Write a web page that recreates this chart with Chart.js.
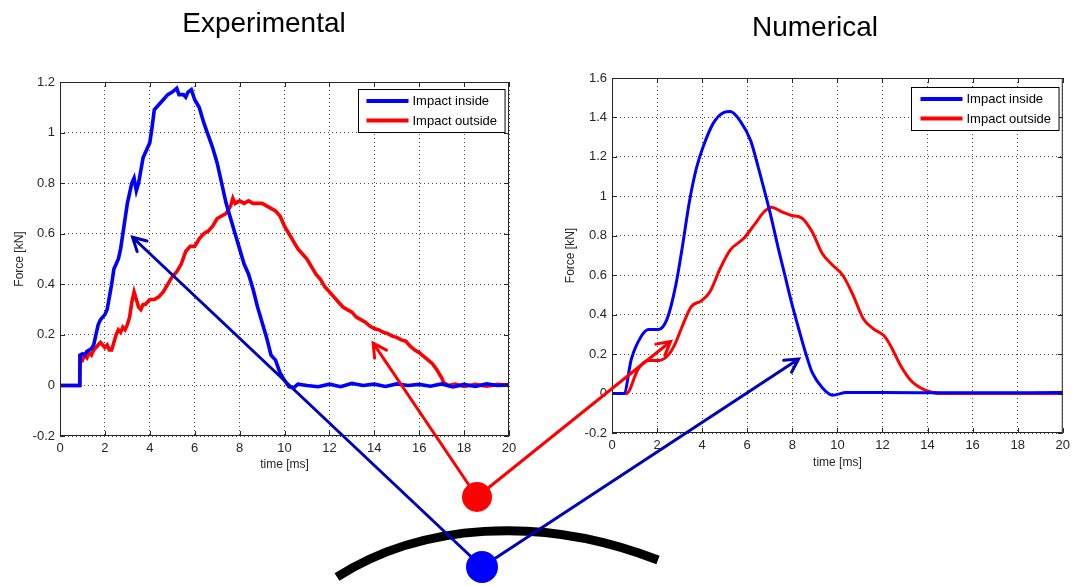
<!DOCTYPE html>
<html>
<head>
<meta charset="utf-8">
<script src="https://cdn.jsdelivr.net/npm/chart.js@4/dist/chart.umd.min.js"></script>
<style>
  html, body { margin: 0; padding: 0; background: #fff; }
  body { width: 1075px; height: 586px; position: relative; overflow: hidden; }
  canvas { position: absolute; }
  #overlay { left: 0; top: 0; pointer-events: none; }
</style>
</head>
<body>
<canvas id="expChart" width="530" height="420" style="left:0;top:60px"></canvas>
<canvas id="numChart" width="535" height="420" style="left:540px;top:60px"></canvas>
<canvas id="overlay" width="1075" height="586"></canvas>
<script>
// measured impact force, time in ms, force in kN
const expInsideT = [0, 0.5, 0.88, 0.9, 1.0, 1.1, 1.2, 1.3, 1.4, 1.5, 1.6, 1.7, 1.8, 1.9, 2.0, 2.1, 2.2, 2.3, 2.4, 2.5,
  2.6, 2.7, 2.8, 2.9, 3.0, 3.1, 3.2, 3.3, 3.4, 3.5, 3.6, 3.7, 3.8, 3.9, 4.0, 4.1, 4.2, 4.3, 4.4, 4.6,
  4.8, 5.0, 5.2, 5.3, 5.5, 5.6, 5.7, 5.85, 6.0, 6.2, 6.4, 6.6, 6.8, 7.0, 7.2, 7.4, 7.6, 7.8, 8.0, 8.2,
  8.4, 8.6, 8.8, 9.0, 9.2, 9.4, 9.6, 9.8, 10.0, 10.2, 10.4, 10.6, 11.0, 11.5, 12.0, 12.5, 13.0, 13.5, 14.0, 14.5,
  15.0, 15.5, 16.0, 16.5, 17.0, 17.5, 18.0, 18.5, 19.0, 19.5, 20.0];
const expInsideF = [0, 0, 0, 0.12, 0.125, 0.12, 0.135, 0.14, 0.145, 0.16, 0.2, 0.24, 0.26, 0.27, 0.28, 0.3, 0.35, 0.4, 0.46, 0.48,
  0.5, 0.54, 0.6, 0.66, 0.72, 0.76, 0.8, 0.82, 0.77, 0.8, 0.85, 0.9, 0.92, 0.94, 0.96, 1.02, 1.09, 1.1, 1.11, 1.13,
  1.15, 1.16, 1.175, 1.15, 1.15, 1.14, 1.16, 1.17, 1.13, 1.1, 1.04, 0.99, 0.94, 0.88, 0.8, 0.72, 0.66, 0.6, 0.54, 0.48,
  0.44, 0.38, 0.31, 0.25, 0.19, 0.12, 0.1, 0.05, 0.02, -0.005, -0.01, 0.005, 0, -0.005, 0.005, -0.005, 0.008, 0, 0.005, -0.004,
  0.006, 0, 0.004, -0.003, 0.006, -0.006, 0.004, -0.004, 0.006, 0, 0.002];

const expOutsideT = [0, 0.86, 0.88, 1.0, 1.1, 1.2, 1.3, 1.4, 1.5, 1.6, 1.7, 1.8, 1.9, 2.0, 2.1, 2.2, 2.3, 2.4, 2.5, 2.6,
  2.7, 2.8, 2.9, 3.0, 3.1, 3.2, 3.3, 3.4, 3.5, 3.6, 3.7, 3.8, 4.0, 4.2, 4.4, 4.6, 4.8, 5.0, 5.2, 5.4,
  5.6, 5.8, 6.0, 6.2, 6.4, 6.6, 6.8, 7.0, 7.2, 7.4, 7.6, 7.7, 7.8, 8.0, 8.2, 8.4, 8.6, 8.8, 9.0, 9.2,
  9.4, 9.6, 9.8, 10.0, 10.2, 10.4, 10.6, 10.8, 11.0, 11.2, 11.4, 11.6, 11.8, 12.0, 12.2, 12.4, 12.6, 12.8, 13.0, 13.2,
  13.4, 13.6, 13.8, 14.0, 14.2, 14.4, 14.6, 14.8, 15.0, 15.2, 15.4, 15.6, 15.8, 16.0, 16.2, 16.4, 16.6, 16.8, 17.0, 17.1,
  17.3, 17.6, 18.0, 18.5, 19.0, 19.5, 20.0];
const expOutsideF = [0, 0, 0.11, 0.1, 0.12, 0.11, 0.13, 0.12, 0.14, 0.15, 0.16, 0.17, 0.16, 0.15, 0.16, 0.14, 0.14, 0.17, 0.2, 0.22,
  0.21, 0.23, 0.22, 0.24, 0.27, 0.33, 0.37, 0.34, 0.31, 0.3, 0.32, 0.32, 0.34, 0.34, 0.35, 0.37, 0.4, 0.43, 0.45, 0.48,
  0.53, 0.55, 0.55, 0.58, 0.6, 0.61, 0.63, 0.66, 0.67, 0.68, 0.71, 0.74, 0.72, 0.73, 0.72, 0.73, 0.72, 0.72, 0.72, 0.71,
  0.7, 0.69, 0.67, 0.63, 0.6, 0.57, 0.54, 0.52, 0.5, 0.47, 0.44, 0.42, 0.39, 0.37, 0.35, 0.33, 0.31, 0.3, 0.29, 0.27,
  0.26, 0.25, 0.235, 0.225, 0.22, 0.21, 0.205, 0.195, 0.19, 0.18, 0.175, 0.155, 0.14, 0.13, 0.115, 0.1, 0.085, 0.06, 0.03, 0.01,
  0, 0.005, -0.004, 0.004, -0.003, 0.004, 0];

// simulated impact force
const numInsideT = [0, 0.53, 0.86, 1.32, 1.62, 2.07, 2.45, 2.83, 3.13, 3.43, 3.74, 4.04, 4.49, 4.95, 5.25, 5.7, 6.16, 6.46, 6.76, 7.07,
  7.37, 7.67, 7.97, 8.28, 8.58, 8.88, 9.33, 9.79, 10.4, 12.0, 15.0, 20.0];
const numInsideF = [0, 0, 0.175, 0.294, 0.325, 0.325, 0.38, 0.55, 0.75, 0.97, 1.14, 1.25, 1.37, 1.425, 1.43, 1.38, 1.28, 1.16, 1.03, 0.89,
  0.74, 0.6, 0.46, 0.33, 0.21, 0.107, 0.03, -0.008, 0.005, 0.005, 0.004, 0.005];

const numOutsideT = [0, 0.64, 1.16, 1.62, 2.07, 2.53, 2.83, 3.13, 3.51, 3.96, 4.34, 4.8, 5.25, 5.85, 6.31, 6.76, 7.07, 7.52, 7.97, 8.43,
  8.88, 9.33, 9.79, 10.24, 10.7, 11.15, 11.6, 12.06, 12.36, 12.81, 13.27, 13.87, 14.63, 20.0];
const numOutsideF = [0, 0, 0.124, 0.167, 0.167, 0.2, 0.26, 0.345, 0.44, 0.47, 0.515, 0.634, 0.728, 0.787, 0.855, 0.923, 0.945, 0.923, 0.903, 0.889,
  0.82, 0.71, 0.651, 0.6, 0.498, 0.379, 0.328, 0.294, 0.243, 0.141, 0.065, 0.019, 0, 0];

const timeTicks = [0, 2, 4, 6, 8, 10, 12, 14, 16, 18, 20];
const expForceTicks = [-0.2, 0, 0.2, 0.4, 0.6, 0.8, 1, 1.2];
const numForceTicks = [-0.2, 0, 0.2, 0.4, 0.6, 0.8, 1, 1.2, 1.4, 1.6];
const seriesNames = ['Impact inside', 'Impact outside'];

const FONT = '"Liberation Sans", Arial, sans-serif';
const INK = '#262626';

const zip = (t, f) => t.map((v, i) => ({ x: v, y: f[i] }));

// box, inward ticks and legend drawn the MATLAB way
const matlabAxes = {
  id: 'matlabAxes',
  afterDraw(chart, args, opts) {
    const { ctx, chartArea: a, scales: { x, y } } = chart;
    ctx.save();
    ctx.strokeStyle = INK;
    ctx.lineWidth = 1;
    ctx.strokeRect(a.left + 0.5, a.top + 0.5, a.right - a.left - 1, a.bottom - a.top - 1);
    ctx.beginPath();
    x.ticks.forEach(t => {
      const px = Math.round(x.getPixelForValue(t.value)) + 0.5;
      ctx.moveTo(px, a.bottom); ctx.lineTo(px, a.bottom - 5);
      ctx.moveTo(px, a.top); ctx.lineTo(px, a.top + 5);
    });
    y.ticks.forEach(t => {
      const py = Math.round(y.getPixelForValue(t.value)) + 0.5;
      ctx.moveTo(a.left, py); ctx.lineTo(a.left + 5, py);
      ctx.moveTo(a.right, py); ctx.lineTo(a.right - 5, py);
    });
    ctx.stroke();

    // legend box
    ctx.font = '13px ' + FONT;
    const labels = chart.data.datasets.map(d => d.label);
    const tw = Math.max(...labels.map(l => ctx.measureText(l).width));
    const w = opts.textX + tw + 8;
    const h = 43;
    const bx = Math.round(a.right - opts.right - w) + 0.5;
    const by = Math.round(a.top + opts.top) + 0.5;
    ctx.fillStyle = '#fff';
    ctx.fillRect(bx, by, w, h);
    ctx.strokeStyle = '#000';
    ctx.strokeRect(bx, by, w, h);
    chart.data.datasets.forEach((d, i) => {
      const ry = by + 11.5 + i * 19.5;
      ctx.strokeStyle = d.borderColor;
      ctx.lineWidth = 4;
      ctx.beginPath();
      ctx.moveTo(bx + opts.lineX0, ry);
      ctx.lineTo(bx + opts.lineX1, ry);
      ctx.stroke();
      ctx.fillStyle = '#000';
      ctx.textBaseline = 'middle';
      ctx.fillText(d.label, bx + opts.textX, ry + 0.5);
    });
    ctx.restore();
  }
};

function forceChart(id, sets, yMin, yMax, yTicks, cfg) {
  return new Chart(document.getElementById(id), {
    type: 'line',
    data: {
      datasets: sets.map((s, i) => ({
        label: seriesNames[i],
        data: s,
        borderColor: i === 0 ? '#0000ff' : '#ff0000',
        borderWidth: cfg.lineWidth,
        pointRadius: 0,
        tension: 0,
        cubicInterpolationMode: cfg.smooth ? 'monotone' : 'default'
      }))
    },
    options: {
      responsive: false,
      animation: false,
      events: [],
      layout: { padding: { top: cfg.top, right: cfg.right, left: 0, bottom: 0 } },
      plugins: {
        legend: { display: false },
        tooltip: { enabled: false },
        matlabAxes: cfg.legend
      },
      scales: {
        x: {
          type: 'linear',
          min: 0, max: 20,
          afterBuildTicks: s => { s.ticks = timeTicks.map(v => ({ value: v })); },
          afterFit: s => { s.height = cfg.xHeight; },
          border: { display: false, dash: [1, 3] },
          grid: { color: 'rgba(0,0,0,0.7)', lineWidth: 1, drawTicks: false },
          ticks: { color: INK, font: { family: FONT, size: 13 }, padding: 5, maxRotation: 0 },
          title: { display: true, text: 'time [ms]', color: INK, font: { family: FONT, size: 12 }, padding: { bottom: cfg.xTitlePad } }
        },
        y: {
          type: 'linear',
          min: yMin, max: yMax,
          afterBuildTicks: s => { s.ticks = yTicks.map(v => ({ value: v })); },
          afterFit: s => { s.width = cfg.yWidth; },
          border: { display: false, dash: [1, 3] },
          grid: { color: 'rgba(0,0,0,0.7)', lineWidth: 1, drawTicks: false },
          ticks: { color: INK, font: { family: FONT, size: 13 }, padding: 5,
            callback: v => String(Math.round(v * 10) / 10) },
          title: { display: true, text: 'Force [kN]', color: INK, font: { family: FONT, size: 12 }, padding: { top: cfg.yTitlePad } }
        }
      }
    },
    plugins: [matlabAxes]
  });
}

const expChart = forceChart('expChart',
  [zip(expInsideT, expInsideF), zip(expOutsideT, expOutsideF)],
  -0.2, 1.2, expForceTicks,
  { top: 22, right: 21, xHeight: 44, yWidth: 60, xTitlePad: 8, yTitlePad: 12, lineWidth: 3.6, smooth: false,
    legend: { right: 4, top: 7, lineX0: 8, lineX1: 50, textX: 54 } });

const numChart = forceChart('numChart',
  [zip(numInsideT, numInsideF), zip(numOutsideT, numOutsideF)],
  -0.2, 1.6, numForceTicks,
  { top: 18, right: 12, xHeight: 47, yWidth: 72, xTitlePad: 10, yTitlePad: 23, lineWidth: 3, smooth: true,
    legend: { right: 4, top: 9, lineX0: 9, lineX1: 51, textX: 55 } });

// sketch of the two impact points, with arrows to their curves
const octx = document.getElementById('overlay').getContext('2d');

function pagePoint(chart, t, f) {
  const c = chart.canvas;
  return [c.offsetLeft + chart.scales.x.getPixelForValue(t), c.offsetTop + chart.scales.y.getPixelForValue(f)];
}

function arrow(from, to, color) {
  const [x0, y0] = from, [x1, y1] = to;
  const ang = Math.atan2(y1 - y0, x1 - x0);
  const len = 15, spread = 0.5;
  octx.strokeStyle = color;
  octx.lineWidth = 3;
  octx.lineCap = 'round';
  octx.beginPath();
  octx.moveTo(x0, y0);
  octx.lineTo(x1, y1);
  octx.moveTo(x1 - len * Math.cos(ang - spread), y1 - len * Math.sin(ang - spread));
  octx.lineTo(x1, y1);
  octx.lineTo(x1 - len * Math.cos(ang + spread), y1 - len * Math.sin(ang + spread));
  octx.stroke();
}

function dot(p, r, color) {
  octx.fillStyle = color;
  octx.beginPath();
  octx.arc(p[0], p[1], r, 0, Math.PI * 2);
  octx.fill();
}

octx.fillStyle = '#000';
octx.font = '28px ' + FONT;
octx.textAlign = 'center';
octx.fillText('Experimental', 264, 32);
octx.fillText('Numerical', 815, 36);

// the structure being hit
octx.strokeStyle = '#000';
octx.lineWidth = 9;
octx.beginPath();
octx.moveTo(337, 577);
octx.bezierCurveTo(420, 524, 540, 514, 658, 560);
octx.stroke();

const outsidePt = [477, 497];
const insidePt = [482, 567];
arrow(insidePt, pagePoint(expChart, 3.23, 0.586), '#0000bb');
arrow(insidePt, pagePoint(numChart, 8.28, 0.175), '#0000bb');
arrow(outsidePt, pagePoint(expChart, 13.95, 0.167), '#ff0000');
arrow(outsidePt, pagePoint(numChart, 2.6, 0.264), '#ff0000');
dot(outsidePt, 15, '#ff0000');
dot(insidePt, 16, '#0000ff');
</script>
</body>
</html>
